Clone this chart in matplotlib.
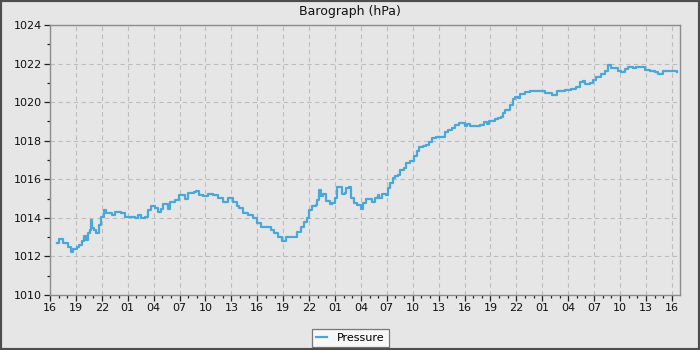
import matplotlib
matplotlib.use("Agg")
import matplotlib.pyplot as plt
from matplotlib.ticker import MultipleLocator, FuncFormatter
from matplotlib.patches import Rectangle

# hours since 16:00 on day 1
hours = [0.77, 1.08, 1.46, 1.54, 1.92, 2.04, 2.38, 2.69, 3.08, 3.38, 3.65, 3.96, 4.15, 4.42, 4.62,
         4.77, 4.92, 5.12, 5.38, 5.65, 5.88, 6.23, 6.54, 7.12, 7.23, 7.5, 8.27, 8.65, 9.42, 9.81,
         10.19, 10.58, 10.96, 11.35, 11.65, 12.12, 12.5, 12.88, 13.08, 13.46, 13.65, 13.85, 14.42,
         14.92, 15.38, 15.58, 15.96, 16.62, 16.92, 17.23, 17.69, 18.27, 18.85, 19.42, 20.0, 20.58,
         21.15, 21.62, 21.92, 22.31, 22.88, 23.46, 23.92, 24.42, 25.0, 25.58, 25.96, 26.35, 26.85,
         27.31, 28.08, 28.65, 29.04, 29.42, 29.81, 30.0, 30.38, 30.77, 30.96, 31.15, 31.38, 31.62,
         32.0, 32.38, 32.69, 33.0, 33.27, 33.54, 33.77, 34.15, 34.31, 34.62, 34.81, 35.19, 35.58,
         35.96, 36.23, 36.54, 37.12, 37.31, 37.62, 37.96, 38.15, 38.46, 38.85, 39.12, 39.42, 39.69,
         40.0, 40.31, 40.58, 40.96, 41.23, 41.73, 42.12, 42.5, 42.77, 43.15, 43.54, 43.85, 44.23,
         44.69, 45.38, 45.69, 46.08, 46.54, 46.92, 47.31, 47.69, 48.0, 48.27, 48.65, 49.42, 49.81,
         50.31, 50.58, 50.85, 51.54, 51.92, 52.23, 52.5, 52.69, 53.27, 53.65, 53.85, 54.23, 54.42,
         55.0, 55.58, 56.54, 57.31, 58.08, 58.65, 59.62, 60.38, 60.96, 61.35, 61.73, 62.0, 62.5,
         62.88, 63.27, 63.85, 64.23, 64.62, 65.0, 65.58, 65.77, 66.15, 66.54, 66.92, 67.5, 67.88,
         68.46, 68.85, 69.42, 70.0, 70.46, 70.96, 71.92, 72.62]
pressure = [1012.71, 1012.90, 1012.90, 1012.71, 1012.71, 1012.47, 1012.21, 1012.38, 1012.51, 1012.59,
            1012.80, 1013.07, 1012.85, 1013.20, 1013.37, 1013.89, 1013.46, 1013.37, 1013.23, 1013.63,
            1014.06, 1014.41, 1014.27, 1014.27, 1014.13, 1014.30, 1014.27, 1014.06, 1014.06, 1014.01,
            1014.15, 1014.01, 1014.06, 1014.41, 1014.63, 1014.53, 1014.32, 1014.44, 1014.72, 1014.70,
            1014.44, 1014.84, 1014.92, 1015.17, 1015.17, 1014.99, 1015.31, 1015.34, 1015.41, 1015.18,
            1015.13, 1015.22, 1015.18, 1015.01, 1014.84, 1015.01, 1014.84, 1014.61, 1014.49, 1014.24,
            1014.15, 1013.98, 1013.75, 1013.54, 1013.51, 1013.37, 1013.23, 1013.02, 1012.82, 1012.99,
            1013.02, 1013.28, 1013.51, 1013.80, 1014.01, 1014.41, 1014.61, 1014.67, 1014.92, 1015.44,
            1015.13, 1015.22, 1014.89, 1014.70, 1014.75, 1015.01, 1015.58, 1015.61, 1015.24, 1015.27,
            1015.53, 1015.58, 1015.01, 1014.75, 1014.67, 1014.46, 1014.75, 1014.98, 1014.98, 1014.84,
            1015.01, 1015.18, 1015.01, 1015.24, 1015.18, 1015.53, 1015.79, 1016.05, 1016.17, 1016.22,
            1016.48, 1016.57, 1016.83, 1016.95, 1017.21, 1017.47, 1017.66, 1017.74, 1017.78, 1017.95,
            1018.12, 1018.21, 1018.21, 1018.47, 1018.55, 1018.64, 1018.81, 1018.90, 1018.90, 1018.76,
            1018.86, 1018.76, 1018.76, 1018.81, 1018.98, 1018.85, 1019.04, 1019.11, 1019.16, 1019.21,
            1019.42, 1019.59, 1019.85, 1020.14, 1020.28, 1020.20, 1020.40, 1020.51, 1020.59, 1020.58,
            1020.46, 1020.37, 1020.58, 1020.63, 1020.66, 1020.77, 1021.06, 1021.11, 1020.92, 1020.97,
            1021.15, 1021.28, 1021.46, 1021.63, 1021.92, 1021.75, 1021.75, 1021.63, 1021.54, 1021.72,
            1021.80, 1021.75, 1021.84, 1021.84, 1021.66, 1021.63, 1021.58, 1021.46, 1021.61, 1021.61,
            1021.54]

start_hour = 16
title = "Barograph (hPa)"
series_name = "Pressure"

BG = "#e6e6e6"
LINE = "#4aa7d9"

fig = plt.figure(figsize=(7, 3.5), dpi=100, facecolor=BG)
ax = fig.add_axes([50 / 700, 1 - 295 / 350, 630 / 700, 270 / 350])
ax.set_facecolor(BG)

ax.plot(hours, pressure, color=LINE, lw=1.6, label=series_name, drawstyle="steps-post")

ax.set_xlim(0, 72.95)
ax.set_ylim(1010, 1024)
ax.xaxis.set_major_locator(MultipleLocator(3))
ax.xaxis.set_minor_locator(MultipleLocator(1))
ax.xaxis.set_major_formatter(FuncFormatter(lambda v, p: "%02d" % ((start_hour + int(round(v))) % 24)))
ax.yaxis.set_major_locator(MultipleLocator(2))
ax.yaxis.set_minor_locator(MultipleLocator(1))

ax.grid(True, which="major", color="#bdbdbd", linestyle=(0, (4, 3)), linewidth=0.8)
ax.set_axisbelow(True)
for s in ["top", "bottom", "left", "right"]:
    ax.spines[s].set_color("#8c8c8c")
    ax.spines[s].set_linewidth(1.0)
ax.tick_params(which="major", length=4, width=0.9, color="#222222", labelsize=8, pad=2, labelcolor="#111111")
ax.tick_params(which="minor", length=2, width=0.9, color="#222222")

fig.text(0.5, 1 - 12 / 350, title, ha="center", va="center", fontsize=9, color="#111111")

leg = ax.legend(loc="center", bbox_to_anchor=(350.5 / 700, 1 - 338 / 350), bbox_transform=fig.transFigure,
                fontsize=8, frameon=True, fancybox=False, handlelength=1.0, handletextpad=0.9,
                borderpad=0.35, borderaxespad=0)
leg.get_frame().set_facecolor("#f7f7f7")
leg.get_frame().set_edgecolor("#777777")
leg.get_frame().set_linewidth(0.9)
leg.get_frame().set_alpha(1)

fig.patches.append(Rectangle((0, 0), 1, 1, transform=fig.transFigure, fill=False,
                             edgecolor="#4d4d4d", linewidth=3, zorder=10))

fig.savefig("out.png", dpi=100, facecolor=BG)
